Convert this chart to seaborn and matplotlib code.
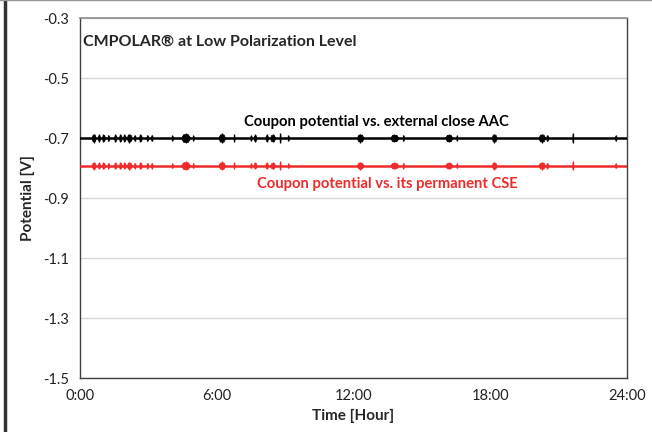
import numpy as np
import pandas as pd
import seaborn as sns
import matplotlib.pyplot as plt
from matplotlib.lines import Line2D

# Baseline potentials [V]
black_level = -0.70
red_level = -0.792

# Noise bursts along the traces: centre time [h], width [h], half-amplitude [V]
burst_hours = [0.60, 0.83, 1.03, 1.25, 1.55, 1.77, 1.95, 2.16, 2.40, 2.65, 2.96, 3.15,
               4.05, 4.63, 4.97, 6.22, 6.76, 7.50, 7.68, 8.19, 8.45, 8.78, 9.14,
               12.29, 13.79, 14.19, 16.18, 16.53, 18.17, 20.26, 20.50, 21.62, 23.50]
burst_widths = [0.18, 0.10, 0.13, 0.06, 0.12, 0.12, 0.12, 0.22, 0.07, 0.12, 0.07, 0.07,
                0.04, 0.40, 0.04, 0.30, 0.04, 0.06, 0.12, 0.12, 0.22, 0.04, 0.04,
                0.30, 0.36, 0.04, 0.32, 0.04, 0.22, 0.30, 0.08, 0.04, 0.06]
black_amp = [0.015, 0.012, 0.013, 0.011, 0.012, 0.013, 0.012, 0.015, 0.011, 0.013, 0.011, 0.011,
             0.010, 0.017, 0.010, 0.016, 0.012, 0.010, 0.012, 0.012, 0.014, 0.017, 0.010,
             0.015, 0.014, 0.011, 0.014, 0.010, 0.015, 0.015, 0.011, 0.018, 0.010]
red_amp = [0.013, 0.011, 0.012, 0.010, 0.011, 0.012, 0.011, 0.013, 0.010, 0.012, 0.010, 0.010,
           0.009, 0.015, 0.009, 0.014, 0.011, 0.009, 0.011, 0.011, 0.012, 0.015, 0.009,
           0.013, 0.012, 0.010, 0.012, 0.009, 0.013, 0.013, 0.010, 0.016, 0.009]

x_ticks = [0, 6, 12, 18, 24]
x_labels = ["0:00", "6:00", "12:00", "18:00", "24:00"]
y_ticks = [-1.5, -1.3, -1.1, -0.9, -0.7, -0.5, -0.3]

base = pd.DataFrame({
    "hour": [0, 24, 0, 24],
    "potential": [black_level, black_level, red_level, red_level],
    "trace": ["AAC", "AAC", "CSE", "CSE"],
})

RED = "#ee2a2a"

sns.set_theme(style="white")
plt.rcParams['font.family'] = ['Lato', 'DejaVu Sans']

fig = plt.figure(figsize=(6.52, 4.32), dpi=100)
ax = fig.add_axes([0.1227, 0.125, 0.839, 0.8333])

colors = {"AAC": "black", "CSE": RED}
sns.lineplot(data=base, x="hour", y="potential", hue="trace", palette=colors,
             linewidth=1.8, legend=False, ax=ax, zorder=3)


def draw_bursts(level, amps, color):
    # flat-topped envelope for each burst plus a sharp spike at its centre
    for c, w, a in zip(burst_hours, burst_widths, amps):
        xs = [c - w / 2, c - w / 4, c + w / 4, c + w / 2]
        h = a * 0.75
        ax.fill_between(xs, [level, level - h, level - h, level],
                        [level, level + h, level + h, level],
                        color=color, linewidth=0.6, edgecolor=color, zorder=3)
    ax.vlines(burst_hours, level - np.array(amps), level + np.array(amps),
              color=color, linewidth=0.9, zorder=3)


draw_bursts(black_level, black_amp, "black")
draw_bursts(red_level, red_amp, RED)

ax.set_xlim(0, 24)
ax.set_ylim(-1.5, -0.3)
ax.set_xticks(x_ticks)
ax.set_xticklabels(x_labels)
ax.set_yticks(y_ticks)
ax.set_yticklabels([f"{v:.1f}" for v in y_ticks])
ax.tick_params(length=0, labelsize=10.5, colors="#222222", pad=8)
ax.yaxis.grid(True, color="#d9d9d9", linewidth=1)
ax.set_axisbelow(True)

for side in ["left", "bottom", "right"]:
    ax.spines[side].set_color("#404040")
    ax.spines[side].set_linewidth(1)
ax.spines["top"].set_color("#8c8c8c")
ax.spines["top"].set_linewidth(1.2)

ax.set_xlabel("Time [Hour]", fontsize=11, fontweight="bold", labelpad=4)
ax.set_ylabel("Potential [V]", fontsize=11, fontweight="bold", labelpad=6)

ax.text(0.006, 0.955, "CMPOLAR® at Low Polarization Level", transform=ax.transAxes,
        fontsize=11.5, fontweight="bold", ha="left", va="top")
ax.text(13.0, -0.647, "Coupon potential vs. external close AAC", fontsize=10.6,
        fontweight="bold", ha="center", va="center", color="black")
ax.text(13.47, -0.853, "Coupon potential vs. its permanent CSE", fontsize=10.6,
        fontweight="bold", ha="center", va="center", color=RED)

# screenshot frame edges
fig.add_artist(Line2D([0.0077, 0.0077], [0, 1], transform=fig.transFigure,
                      color="#333333", linewidth=2.5))
fig.add_artist(Line2D([0, 1], [0.999, 0.999], transform=fig.transFigure,
                      color="#999999", linewidth=1))

fig.savefig("out.png", dpi=100)
